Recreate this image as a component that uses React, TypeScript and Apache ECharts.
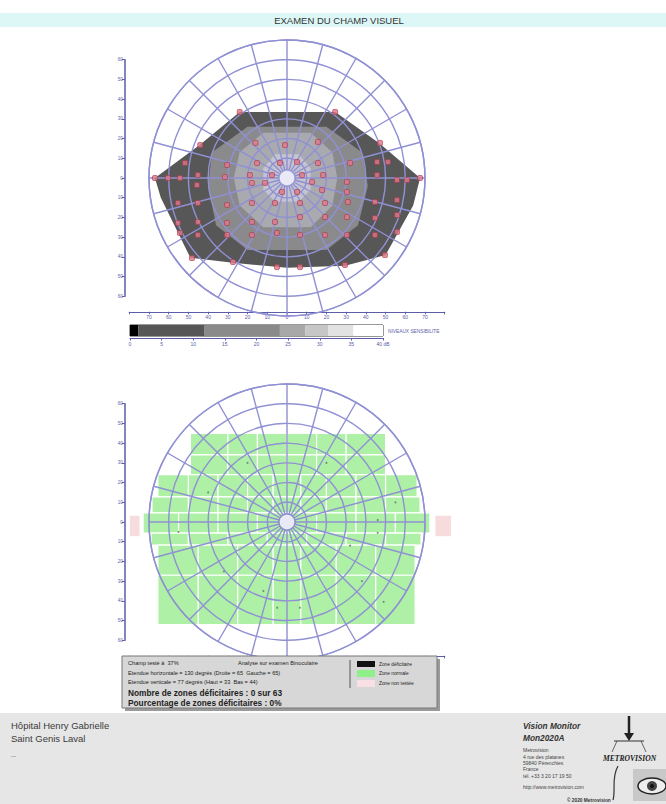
import React, { useEffect, useRef } from "react";
import * as echarts from "echarts";

// ---------- DATA (degrees of visual field) ----------
const axisTicksX = [-70, -60, -50, -40, -30, -20, -10, 0, 10, 20, 30, 40, 50, 60, 70];

// isopters of the upper map (x = horizontal deg, y = vertical deg)
const isopterOuter = [
  [-24, 33.5], [24.5, 33.5], [47, 17.5], [67.5, 0], [64, -14], [50, -39], [29.5, -44.5],
  [0, -45.5], [-27.5, -43], [-49, -40.5], [-64, -10], [-67, 0], [-44, 17]
];
const isopterMiddle = [
  [-20, 26], [20, 26], [38, 13], [41, -4], [36, -24], [20, -36.5], [-20, -36.5],
  [-36, -24], [-40, -4], [-38, 13]
];
const isopterInner = [
  [-12, 23], [12, 23], [23, 13], [25.5, 0], [23, -14], [12, -25], [-12, -25],
  [-24, -14], [-27, 0], [-24, 13]
];
const isopterCentral = [
  [-6, 12], [6, 12], [12, 5], [12, -6], [6, -12], [-6, -12], [-12, -6], [-12, 5]
];

const testPoints = [
  [-24, 33.5], [-44, 16.7], [-16, 17.8], [-1, 16.7], [-51.7, 7.6], [-30.4, 6.6], [-15.2, 7.6],
  [-3.6, 7.6], [-67, 0], [-60.4, 0], [-54.3, 0], [-45.2, 1.5], [-31.5, 0.5], [-18.8, 1.5],
  [-7.6, 1.5], [-45.7, -3.6], [-17.8, -2.5], [-11.2, -2.5], [-2.5, -7.1], [-55.3, -12.7],
  [-45.2, -12.7], [-30.4, -13.7], [-17.8, -12.7], [-6.1, -12.7], [-55.3, -22.8], [-45.2, -22.3],
  [-30.4, -22.8], [-17.8, -22.3], [-6.1, -22.3], [-54.3, -27.9], [-45.2, -28.9], [-30.4, -28.9],
  [-17.8, -28.9], [-5.1, -27.9], [-48.2, -40.6], [-27.4, -42.6], [-5.1, -45.2],
  [24.4, 33.5], [15.7, 18.3], [5.1, 8.1], [15.7, 7.6], [32, 7.6], [45.7, 8.1], [51.2, 8.1],
  [7.6, 1.5], [18.3, 1.5], [45.7, 1.5], [12.7, -2], [30.4, -2], [55.8, -1], [60.9, -1],
  [67.5, 0], [5.1, -7.1], [17.8, -6.1], [30.4, -7.1], [55.8, -11.2], [6.6, -12.7], [19.3, -12.7],
  [30.9, -12.2], [44.6, -12.2], [55.8, -18.8], [6.6, -19.8], [19.3, -19.8], [30.4, -19.8],
  [44.6, -20.3], [55.8, -27.4], [6.6, -28.9], [19.3, -28.9], [30.4, -28.9], [44.6, -28.9],
  [6.6, -45.2], [29.4, -44.1], [49.7, -39.1], [47.2, 17.8]
];

// zones of the lower map: [xFrom, xTo, yFrom, yTo]
const normalZones = [
  [-49, -30, 34, 45], [-30, -15, 34, 45], [-15, 0, 34, 45], [0, 15, 34, 45], [15, 30, 34, 45], [30, 50, 34, 45],
  [-49, -30, 24, 34], [-30, -15, 24, 34], [-15, 0, 24, 34], [0, 15, 24, 34], [15, 30, 24, 34], [30, 50, 24, 34],
  [-65.5, -50, 12.7, 24], [-50, -35, 12.7, 24], [-35, -20, 12.7, 24], [-20, -7, 12.7, 24], [-7, 7, 12.7, 24],
  [7, 20, 12.7, 24], [20, 35, 12.7, 24], [35, 50, 12.7, 24], [50, 66, 12.7, 24],
  [-68.5, -50, 4.6, 12.7], [-50, -35, 4.6, 12.7], [-35, -20, 4.6, 12.7], [-20, -7, 4.6, 12.7], [-7, 7, 4.6, 12.7],
  [7, 20, 4.6, 12.7], [20, 35, 4.6, 12.7], [35, 50, 4.6, 12.7], [50, 67.5, 4.6, 12.7],
  [-73, -55, -5.6, 4.6], [-55, -35, -5.6, 4.6], [-35, -15, -5.6, 4.6], [-15, 0, -5.6, 4.6], [0, 15, -5.6, 4.6],
  [15, 35, -5.6, 4.6], [35, 55, -5.6, 4.6], [55, 72.5, -5.6, 4.6],
  [-69, -50, -11.7, -5.6], [-50, -30, -11.7, -5.6], [-30, -10, -11.7, -5.6], [-10, 10, -11.7, -5.6],
  [10, 30, -11.7, -5.6], [30, 50, -11.7, -5.6], [50, 68, -11.7, -5.6],
  [-65.5, -45, -27, -11.7], [-45, -25, -27, -11.7], [-25, -7, -27, -11.7], [-7, 7, -27, -11.7],
  [7, 25, -27, -11.7], [25, 45, -27, -11.7], [45, 65, -27, -11.7],
  [-65.5, -45, -52, -27], [-45, -25, -52, -27], [-25, -7, -52, -27], [-7, 7, -52, -27],
  [7, 25, -52, -27], [25, 45, -52, -27], [45, 65, -52, -27]
];
const untestedZones = [[-80, -74.5, -7.5, 3.5], [75, 83.5, -7.5, 3.5]];
const stimulusMarks = [
  [32, -12], [46, 1], [46, -5.5], [49, -40.5], [-5, -43.5], [6.5, -43.5], [-40, 15],
  [-32, -25], [20, 30], [-20, 30], [55, 10], [-55, -5], [38, -30], [-12, -35]
];

// sensitivity scale (dB)
const scaleTicks = [0, 5, 10, 15, 20, 25, 30, 35, 40];
const sensitivityBands = [1.3, 10.5, 11.9, 4, 3.6, 4, 4.7];

// ---------- STYLE ----------
const GRID_LINE = "#9090d4";
const AXIS_COL = "#5c5ca8";
const bandColors = ["#000000", "#565656", "#8a8a8a", "#a8a8a8", "#c6c6c6", "#e2e2e2", "#ffffff"];
const FONT = "Liberation Sans";

const C1 = [287, 178];
const C2 = [287, 522];
const R = 138;
const SCALE = R / 70;

function polygonSeries(points: number[][], color: string, gi: number, z: number) {
  return {
    type: "custom",
    xAxisIndex: gi,
    yAxisIndex: gi,
    z,
    silent: true,
    data: [[0, 0]],
    renderItem: (_p: any, api: any) => ({
      type: "polygon",
      shape: { points: points.map((pt) => api.coord(pt)) },
      style: { fill: color, stroke: null },
    }),
  };
}

function rectSeries(rects: number[][], color: string, gi: number) {
  return {
    type: "custom",
    xAxisIndex: gi,
    yAxisIndex: gi,
    z: 1,
    silent: true,
    encode: { x: [0, 1], y: [2, 3] },
    data: rects,
    renderItem: (_p: any, api: any) => {
      const a = api.coord([api.value(0), api.value(3)]);
      const b = api.coord([api.value(1), api.value(2)]);
      return {
        type: "rect",
        shape: { x: a[0], y: a[1], width: b[0] - a[0], height: b[1] - a[1] },
        style: { fill: color, stroke: "#ffffff", lineWidth: 1.2 },
      };
    },
  };
}

function gridFor(c: number[]) {
  return {
    left: c[0] - 80 * SCALE,
    top: c[1] - 60 * SCALE,
    width: 160 * SCALE,
    height: 120 * SCALE,
    containLabel: false,
  };
}

function xAxisFor(gi: number, labels: boolean) {
  return {
    gridIndex: gi,
    type: "value",
    min: -80,
    max: 80,
    interval: 10,
    position: "bottom",
    offset: 15.5,
    axisLine: { show: true, onZero: false, lineStyle: { color: AXIS_COL, width: 1.2 } },
    axisTick: { show: true, length: 2.5, inside: false, lineStyle: { color: AXIS_COL } },
    axisLabel: {
      show: labels,
      fontSize: 5,
      color: AXIS_COL,
      margin: 3,
      fontFamily: FONT,
      formatter: (v: number) => (axisTicksX.includes(v) ? String(Math.abs(v)) : ""),
    },
    splitLine: { show: false },
  };
}

function yAxisFor(gi: number) {
  return {
    gridIndex: gi,
    type: "value",
    min: -60,
    max: 60,
    interval: 10,
    position: "left",
    offset: 4.5,
    axisLine: { show: true, onZero: false, lineStyle: { color: AXIS_COL, width: 1.5 } },
    axisTick: { show: true, length: 3, lineStyle: { color: AXIS_COL } },
    axisLabel: { show: true, fontSize: 4.5, color: AXIS_COL, margin: 2, fontFamily: FONT, formatter: (v: number) => String(Math.abs(v)) },
    splitLine: { show: false },
  };
}

function polarAxes(pi: number) {
  return {
    radius: {
      polarIndex: pi,
      type: "value",
      min: 0,
      max: 70,
      interval: 10,
      z: 5,
      axisLine: { show: false },
      axisTick: { show: false },
      axisLabel: { show: false },
      splitLine: { show: true, lineStyle: { color: GRID_LINE, width: 1.4 } },
    },
    angle: {
      polarIndex: pi,
      type: "value",
      min: 0,
      max: 360,
      interval: 15,
      startAngle: 90,
      z: 5,
      axisLine: { show: true, lineStyle: { color: GRID_LINE, width: 1.4 } },
      axisTick: { show: false },
      axisLabel: { show: false },
      splitLine: { show: true, lineStyle: { color: GRID_LINE, width: 1.4 } },
    },
  };
}

export default function App() {
  const ref = useRef<HTMLDivElement>(null);
  useEffect(() => {
    document.body.style.margin = "0";
    const chart = echarts.init(ref.current!, null, { renderer: "svg" });
    const p0 = polarAxes(0);
    const p1 = polarAxes(1);

    const smallTxt = (x: number, y: number, text: string, size = 5.6, extra: any = {}) => ({
      type: "text",
      x,
      y,
      z: 110,
      style: { text, fontSize: size, fill: "#222", fontFamily: FONT, verticalAlign: "middle", ...extra },
    });

    const bandSeries = sensitivityBands.map((v, i) => ({
      type: "bar",
      xAxisIndex: 2,
      yAxisIndex: 2,
      stack: "scale",
      barWidth: "100%",
      silent: true,
      data: [v],
      itemStyle: { color: bandColors[i] },
    }));

    const option: any = {
      animation: false,
      backgroundColor: "#ffffff",
      textStyle: { fontFamily: FONT },
      grid: [
        gridFor(C1),
        gridFor(C2),
        { left: 130, top: 325, width: 253, height: 11, show: true, borderColor: "#333", borderWidth: 1, containLabel: false },
      ],
      xAxis: [
        xAxisFor(0, true),
        xAxisFor(1, false),
        {
          gridIndex: 2,
          type: "value",
          min: 0,
          max: 40,
          interval: 5,
          position: "bottom",
          offset: 2,
          axisLine: { show: true, onZero: false, lineStyle: { color: AXIS_COL, width: 1 } },
          axisTick: { show: true, length: 2.5, lineStyle: { color: AXIS_COL } },
          axisLabel: {
            fontSize: 5,
            color: AXIS_COL,
            margin: 3,
            fontFamily: FONT,
            formatter: (v: number) => (scaleTicks.includes(v) ? (v === 40 ? "40 dB" : String(v)) : ""),
          },
          splitLine: { show: false },
        },
      ],
      yAxis: [
        yAxisFor(0),
        yAxisFor(1),
        { gridIndex: 2, type: "category", data: ["dB"], show: false },
      ],
      polar: [
        { center: C1, radius: R },
        { center: C2, radius: R },
      ],
      radiusAxis: [p0.radius, p1.radius],
      angleAxis: [p0.angle, p1.angle],
      series: [
        polygonSeries(isopterOuter, "#575757", 0, 1),
        polygonSeries(isopterMiddle, "#8a8a8c", 0, 1),
        polygonSeries(isopterInner, "#a9a9b0", 0, 1),
        polygonSeries(isopterCentral, "#c4c4d0", 0, 1),
        {
          type: "scatter",
          xAxisIndex: 0,
          yAxisIndex: 0,
          z: 10,
          silent: true,
          symbol: "roundRect",
          symbolSize: 5,
          data: testPoints,
          itemStyle: { color: "#e0788a", borderColor: "#a83848", borderWidth: 0.8 },
        },
        {
          type: "scatter",
          xAxisIndex: 0,
          yAxisIndex: 0,
          z: 11,
          silent: true,
          symbolSize: 16,
          data: [[0, 0]],
          itemStyle: { color: "#ffffff", borderColor: GRID_LINE, borderWidth: 1.5 },
        },
        rectSeries(normalZones, "#aef0a6", 1),
        rectSeries(untestedZones, "#f6dcdc", 1),
        {
          type: "scatter",
          xAxisIndex: 1,
          yAxisIndex: 1,
          z: 3,
          silent: true,
          symbolSize: 2,
          data: stimulusMarks,
          itemStyle: { color: "#667766" },
        },
        {
          type: "scatter",
          xAxisIndex: 1,
          yAxisIndex: 1,
          z: 11,
          silent: true,
          symbolSize: 16,
          data: [[0, 0]],
          itemStyle: { color: "#ffffff", borderColor: "#8080c0", borderWidth: 1.5 },
        },
        ...bandSeries,
      ],
      graphic: [
        { type: "rect", z: 100, shape: { x: 0, y: 13, width: 666, height: 14 }, style: { fill: "#ddf7f7" } },
        {
          type: "text", z: 101, x: 339, y: 20,
          style: { text: "EXAMEN DU CHAMP VISUEL", fontSize: 9.5, fill: "#333", fontFamily: FONT, align: "center", verticalAlign: "middle" },
        },
        {
          type: "text", z: 101, x: 388, y: 331,
          style: { text: "NIVEAUX SENSIBILITE", fontSize: 4.8, fill: AXIS_COL, fontFamily: FONT, verticalAlign: "middle" },
        },
        // info box
        { type: "rect", z: 104, shape: { x: 125, y: 659, width: 315, height: 52 }, style: { fill: "#9a9a9a" } },
        { type: "rect", z: 105, shape: { x: 122, y: 656, width: 315, height: 52 }, style: { fill: "#d7d7d7", stroke: "#777", lineWidth: 1 } },
        smallTxt(128, 663, "Champ testé à  37%"),
        smallTxt(238, 663, "Analyse sur examen Binoculaire"),
        smallTxt(128, 672.5, "Etendue horizontale = 130 degrés (Droite = 65  Gauche = 65)"),
        smallTxt(128, 682, "Etendue verticale = 77 degrés (Haut = 33  Bas = 44)"),
        smallTxt(128, 693, "Nombre de zones déficitaires : 0 sur 63", 8.3, { fontWeight: "bold" }),
        smallTxt(128, 702.5, "Pourcentage de zones déficitaires : 0%", 8.3, { fontWeight: "bold" }),
        { type: "line", z: 110, shape: { x1: 350, y1: 660, x2: 350, y2: 688 }, style: { stroke: "#555", lineWidth: 1 } },
        { type: "rect", z: 110, shape: { x: 357, y: 661, width: 18, height: 6 }, style: { fill: "#111" } },
        { type: "rect", z: 110, shape: { x: 357, y: 670, width: 18, height: 7 }, style: { fill: "#8ff08a" } },
        { type: "rect", z: 110, shape: { x: 357, y: 680, width: 18, height: 7 }, style: { fill: "#f8e0e4" } },
        smallTxt(379, 664, "Zone déficitaire", 4.8),
        smallTxt(379, 673.5, "Zone normale", 4.8),
        smallTxt(379, 683.5, "Zone non testée", 4.8),
        // footer
        { type: "rect", z: 100, shape: { x: 0, y: 713, width: 666, height: 91 }, style: { fill: "#e6e6e6" } },
        smallTxt(11, 725, "Hôpital Henry Gabrielle", 9.5, { fill: "#3a3a3a" }),
        smallTxt(11, 738.5, "Saint Genis Laval", 9.5, { fill: "#3a3a3a" }),
        smallTxt(11, 756, "---", 5, { fill: "#555" }),
        smallTxt(523, 726, "Vision Monitor", 8.3, { fontWeight: "bold", fontStyle: "italic", fill: "#333" }),
        smallTxt(523, 737.5, "Mon2020A", 8.3, { fontWeight: "bold", fontStyle: "italic", fill: "#333" }),
        smallTxt(523, 750, "Metrovision", 5, { fill: "#444" }),
        smallTxt(523, 756.5, "4 rue des platanes", 5, { fill: "#444" }),
        smallTxt(523, 762.5, "59840 Pérenchies", 5, { fill: "#444" }),
        smallTxt(523, 769, "France", 5, { fill: "#444" }),
        smallTxt(523, 775.5, "tél. +33 3 20 17 19 50", 5, { fill: "#444" }),
        smallTxt(523, 787, "http://www.metrovision.com", 5, { fill: "#444" }),
        smallTxt(567, 800, "© 2020 Metrovision", 4.8, { fontWeight: "bold", fill: "#333" }),
        // logo
        { type: "line", z: 110, shape: { x1: 629, y1: 716, x2: 629, y2: 738 }, style: { stroke: "#222", lineWidth: 2.5 } },
        { type: "polygon", z: 110, shape: { points: [[624, 733], [634, 733], [629, 741]] }, style: { fill: "#222" } },
        { type: "line", z: 110, shape: { x1: 614, y1: 741, x2: 644, y2: 741 }, style: { stroke: "#333", lineWidth: 1 } },
        { type: "line", z: 110, shape: { x1: 617, y1: 741, x2: 612, y2: 752 }, style: { stroke: "#444", lineWidth: 0.8 } },
        { type: "line", z: 110, shape: { x1: 641, y1: 741, x2: 646, y2: 752 }, style: { stroke: "#444", lineWidth: 0.8 } },
        smallTxt(603, 758, "METROVISION", 7.6, { fontWeight: "bold", fontStyle: "italic", fill: "#222", fontFamily: "Liberation Serif" }),
        { type: "bezierCurve", z: 110, shape: { x1: 618, y1: 766, x2: 613, y2: 800, cpx1: 611, cpy1: 778, cpx2: 616, cpy2: 790 }, style: { stroke: "#333", lineWidth: 1.2, fill: null } },
        { type: "rect", z: 109, shape: { x: 633, y: 769, width: 33, height: 32 }, style: { fill: "#c8c8c8" } },
        { type: "ellipse", z: 110, shape: { cx: 652, cy: 786, rx: 14, ry: 8 }, style: { fill: "#eee", stroke: "#222", lineWidth: 1.5 } },
        { type: "circle", z: 111, shape: { cx: 652, cy: 786, r: 5 }, style: { fill: "#444" } },
        { type: "circle", z: 112, shape: { cx: 652, cy: 786, r: 2 }, style: { fill: "#111" } },
      ],
    };
    chart.setOption(option);
    return () => chart.dispose();
  }, []);
  return <div ref={ref} style={{ width: 666, height: 804 }} />;
}
